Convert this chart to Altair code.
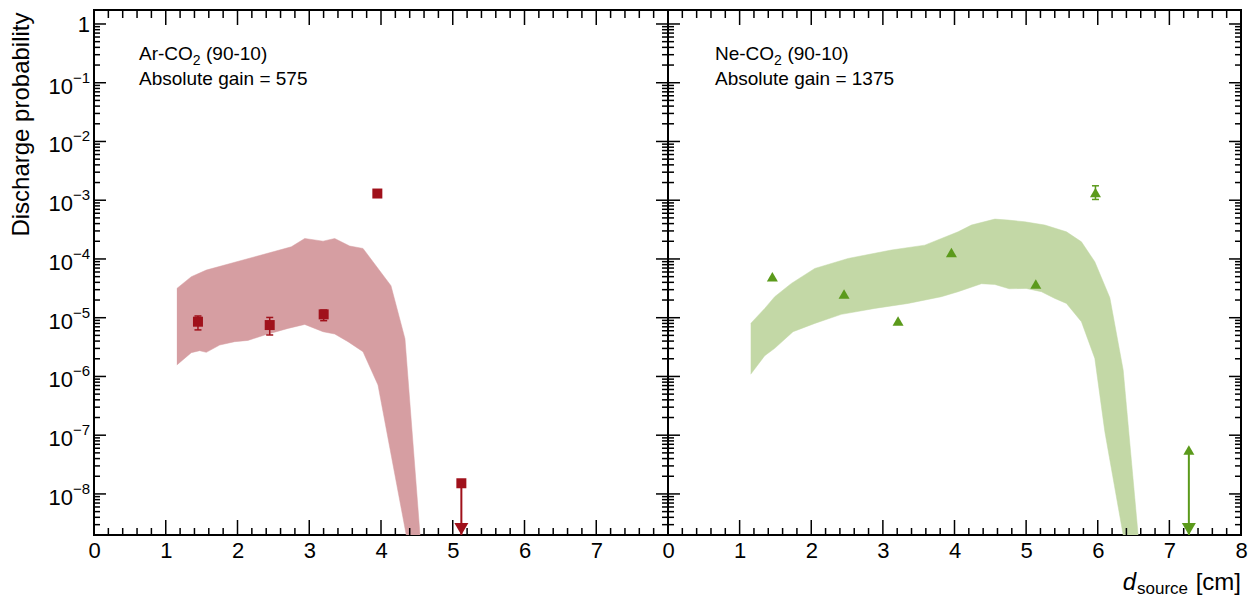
import altair as alt
import pandas as pd

FONT = "Liberation Sans"
W1, W2, H = 574, 573, 525
Y_MIN, Y_MAX = 2.0e-9, 1.73

AR_COLOR = "#a0111b"
AR_BAND = "#d69ea2"
NE_COLOR = "#5b9a1b"
NE_BAND = "#c3d8a6"

# ---------------- Ar-CO2 (90-10), gain 575 ----------------
ar_band_up_x = [1.155, 1.356, 1.565, 2.750, 2.937, 3.192, 3.355, 3.564, 3.749, 4.139, 4.334, 4.544]
ar_band_up_y = [3.15e-5, 4.98e-5, 6.47e-5, 1.61e-4, 2.23e-4, 2.01e-4, 2.23e-4, 1.66e-4, 1.51e-4, 3.50e-5, 4.40e-6, 2.0e-9]
ar_band_lo_x = [1.155, 1.356, 1.473, 1.565, 1.752, 1.961, 2.146, 2.379, 2.704, 2.937, 3.192, 3.355, 3.540, 3.749, 3.958, 4.352]
ar_band_lo_y = [1.57e-6, 2.54e-6, 2.75e-6, 2.57e-6, 3.43e-6, 3.91e-6, 4.11e-6, 5.08e-6, 6.58e-6, 7.69e-6, 5.78e-6, 5.28e-6, 3.91e-6, 2.64e-6, 7.16e-7, 2.0e-9]

ar_x = [1.449, 2.449, 3.201, 3.949]
ar_y = [8.55e-6, 7.5e-6, 1.14e-5, 1.30e-3]
ar_err_x = [1.449, 2.449, 3.201]
ar_err_lo = [6.2e-6, 5.08e-6, 8.9e-6]
ar_err_hi = [1.07e-5, 1.01e-5, 1.35e-5]
ar_lim_x = [5.120]
ar_lim_y = [1.52e-8]

# ---------------- Ne-CO2 (90-10), gain 1375 ----------------
ne_band_up_x = [1.155, 1.351, 1.490, 1.722, 2.049, 2.514, 3.119, 3.585, 4.050, 4.236, 4.563, 4.749, 4.982, 5.261, 5.563, 5.772, 5.959, 6.169, 6.355, 6.564]
ne_band_up_y = [8.0e-6, 1.44e-5, 2.28e-5, 3.83e-5, 6.89e-5, 1.02e-4, 1.42e-4, 1.72e-4, 2.90e-4, 3.78e-4, 4.77e-4, 4.59e-4, 4.29e-4, 3.78e-4, 2.90e-4, 1.96e-4, 8.95e-5, 2.19e-5, 1.29e-6, 2.0e-9]
ne_band_lo_x = [1.155, 1.351, 1.490, 1.746, 2.049, 2.420, 2.887, 3.352, 3.817, 4.050, 4.376, 4.563, 4.763, 5.000, 5.214, 5.401, 5.563, 5.772, 5.959, 6.099, 6.355]
ne_band_lo_y = [1.09e-6, 2.26e-6, 3.01e-6, 5.78e-6, 8.0e-6, 1.14e-5, 1.44e-5, 1.75e-5, 2.28e-5, 2.77e-5, 3.79e-5, 3.68e-5, 3.11e-5, 3.15e-5, 2.77e-5, 2.13e-5, 1.75e-5, 8.55e-6, 2.03e-6, 1.15e-7, 2.0e-9]

ne_x = [1.457, 2.458, 3.212, 3.957, 5.135, 5.968]
ne_y = [4.98e-5, 2.53e-5, 8.8e-6, 1.29e-4, 3.74e-5, 1.35e-3]
ne_err_x = [5.968]
ne_err_lo = [1.03e-3]
ne_err_hi = [1.76e-3]
ne_lim_x = [7.272]
ne_lim_y = [5.6e-8]

# ---------------- axis ticks / labels ----------------
x_major = [0, 1, 2, 3, 4, 5, 6, 7, 8]
x_minor = [round(0.2 * i, 1) for i in range(1, 40) if i % 5 != 0]
x_labels_left = [0, 1, 2, 3, 4, 5, 6, 7]
x_labels_right = [0, 1, 2, 3, 4, 5, 6, 7, 8]
y_major = [1e-8, 1e-7, 1e-6, 1e-5, 1e-4, 1e-3, 1e-2, 1e-1, 1.0]
y_minor = [k * 10.0 ** n for n in range(-9, 1) for k in range(2, 10)
           if Y_MIN < k * 10.0 ** n < Y_MAX]
y_label_vals = [1e-8, 1e-7, 1e-6, 1e-5, 1e-4, 1e-3, 1e-2, 1e-1]
y_label_exps = ["\u22128", "\u22127", "\u22126", "\u22125", "\u22124", "\u22123", "\u22122", "\u22121"]

xscale = alt.Scale(domain=[0, 8], nice=False, zero=False)
yscale = alt.Scale(type="log", domain=[Y_MIN, Y_MAX], nice=False)


def build_panel(width, band_up_x, band_up_y, band_lo_x, band_lo_y, band_color,
                px, py, shape, psize, color, ex, elo, ehi, lx, ly,
                x_labels, gas_main, text_x, gain_text, left):
    xaxis = alt.Axis(values=x_labels, title=None, ticks=False, tickSize=0, domain=False,
                     grid=False, labelFont=FONT, labelFontSize=22, labelPadding=22,
                     labelBaseline="alphabetic", labelFlush=False, labelOverlap=False,
                     labelColor="black", format="d")
    if left:
        yaxis = alt.Axis(title="Discharge probability", labels=False, ticks=False,
                         domain=False, grid=False, titleFont=FONT, titleFontSize=24,
                         titleFontWeight="normal", titleColor="black", titleAngle=270,
                         titleAlign="right", titleBaseline="alphabetic",
                         titleX=-66, titleY=2)
    else:
        yaxis = None

    def X(f):
        return alt.X(f, type="quantitative", scale=xscale, axis=xaxis)

    def Y(f):
        return alt.Y(f, type="quantitative", scale=yscale, axis=yaxis)

    n_up = len(band_up_x)
    band_df = pd.DataFrame({
        "x": band_up_x + band_lo_x[::-1],
        "y": band_up_y + band_lo_y[::-1],
        "i": list(range(n_up + len(band_lo_x))),
    })
    layers = []
    layers.append(alt.Chart(band_df).mark_line(fill=band_color, stroke=band_color,
                                               strokeWidth=0.5, clip=True)
                  .encode(x=X("x"), y=Y("y"), order=alt.Order("i:Q")))

    # tick marks (inside, ROOT style)
    xmaj = pd.DataFrame({"v": x_major})
    xmin = pd.DataFrame({"v": x_minor})
    ymaj = pd.DataFrame({"v": y_major})
    ymin = pd.DataFrame({"v": y_minor})
    tk = dict(color="black", strokeWidth=1.5)
    layers.append(alt.Chart(xmaj).mark_rule(**tk).encode(x=X("v"), y=alt.value(H), y2=alt.value(H - 15)))
    layers.append(alt.Chart(xmaj).mark_rule(**tk).encode(x=X("v"), y=alt.value(0), y2=alt.value(15)))
    layers.append(alt.Chart(xmin).mark_rule(**tk).encode(x=X("v"), y=alt.value(H), y2=alt.value(H - 7)))
    layers.append(alt.Chart(xmin).mark_rule(**tk).encode(x=X("v"), y=alt.value(0), y2=alt.value(8)))
    layers.append(alt.Chart(ymaj).mark_rule(**tk).encode(y=Y("v"), x=alt.value(0), x2=alt.value(12)))
    layers.append(alt.Chart(ymaj).mark_rule(**tk).encode(y=Y("v"), x=alt.value(width), x2=alt.value(width - 12)))
    layers.append(alt.Chart(ymin).mark_rule(**tk).encode(y=Y("v"), x=alt.value(0), x2=alt.value(6)))
    layers.append(alt.Chart(ymin).mark_rule(**tk).encode(y=Y("v"), x=alt.value(width), x2=alt.value(width - 6)))

    # error bars
    err_df = pd.DataFrame({"x": ex, "lo": elo, "hi": ehi})
    layers.append(alt.Chart(err_df).mark_rule(color=color, strokeWidth=1.5)
                  .encode(x=X("x"), y=Y("lo"), y2=alt.Y2("hi")))
    layers.append(alt.Chart(err_df).mark_tick(orient="horizontal", size=7, thickness=1.5, color=color, opacity=1)
                  .encode(x=X("x"), y=Y("lo")))
    layers.append(alt.Chart(err_df).mark_tick(orient="horizontal", size=7, thickness=1.5, color=color, opacity=1)
                  .encode(x=X("x"), y=Y("hi")))

    # points
    pts_df = pd.DataFrame({"x": px, "y": py})
    layers.append(alt.Chart(pts_df).mark_point(shape=shape, filled=True, size=psize,
                                               color=color, opacity=1, strokeWidth=0)
                  .encode(x=X("x"), y=Y("y")))

    # upper limit arrow
    lim_df = pd.DataFrame({"x": lx, "y": ly})
    layers.append(alt.Chart(lim_df).mark_rule(color=color, strokeWidth=2)
                  .encode(x=X("x"), y=Y("y"), y2=alt.value(H)))
    layers.append(alt.Chart(lim_df).mark_point(shape=shape, filled=True, size=psize,
                                               color=color, opacity=1, strokeWidth=0)
                  .encode(x=X("x"), y=Y("y")))
    layers.append(alt.Chart(lim_df).mark_point(shape="triangle-down", filled=True, size=196,
                                               color=color, opacity=1, strokeWidth=0)
                  .encode(x=X("x"), y=alt.value(H - 6)))

    # annotation text
    one = pd.DataFrame({"a": [0]})
    txt = dict(font=FONT, color="black", align="left", baseline="alphabetic")
    layers.append(alt.Chart(one).mark_text(text=gas_main, fontSize=19, **txt)
                  .encode(x=alt.value(text_x[0]), y=alt.value(50)))
    layers.append(alt.Chart(one).mark_text(text="2", fontSize=14, **txt)
                  .encode(x=alt.value(text_x[1]), y=alt.value(55)))
    layers.append(alt.Chart(one).mark_text(text="(90-10)", fontSize=19, **txt)
                  .encode(x=alt.value(text_x[2]), y=alt.value(50)))
    layers.append(alt.Chart(one).mark_text(text=gain_text, fontSize=19, **txt)
                  .encode(x=alt.value(text_x[0]), y=alt.value(75)))

    if left:
        lab_df = pd.DataFrame({"v": y_label_vals, "e": y_label_exps})
        rt = dict(font=FONT, color="black", align="right", baseline="alphabetic")
        layers.append(alt.Chart(lab_df).mark_text(text="10", fontSize=22, dy=11, **rt)
                      .encode(y=Y("v"), x=alt.value(-21)))
        layers.append(alt.Chart(lab_df).mark_text(fontSize=15, dy=0, **rt)
                      .encode(y=Y("v"), x=alt.value(-4), text="e:N"))
        layers.append(alt.Chart(pd.DataFrame({"v": [1.0]})).mark_text(text="1", fontSize=22, dy=8, **rt)
                      .encode(y=Y("v"), x=alt.value(-4)))
    else:
        rt = dict(font=FONT, color="black", align="right", baseline="alphabetic")
        layers.append(alt.Chart(one).mark_text(text="[cm]", fontSize=24, **rt)
                      .encode(x=alt.value(width), y=alt.value(H + 55)))
        layers.append(alt.Chart(one).mark_text(text="source", fontSize=17, **rt)
                      .encode(x=alt.value(width - 53), y=alt.value(H + 59)))
        layers.append(alt.Chart(one).mark_text(text="d", fontSize=24, fontStyle="italic", **rt)
                      .encode(x=alt.value(width - 105), y=alt.value(H + 55)))

    return alt.layer(*layers).properties(width=width, height=H)


left = build_panel(W1, ar_band_up_x, ar_band_up_y, ar_band_lo_x, ar_band_lo_y, AR_BAND,
                   ar_x, ar_y, "square", 100, AR_COLOR, ar_err_x, ar_err_lo, ar_err_hi,
                   ar_lim_x, ar_lim_y, x_labels_left, "Ar-CO", [45, 98.8, 112], "Absolute gain = 575", True)
right = build_panel(W2, ne_band_up_x, ne_band_up_y, ne_band_lo_x, ne_band_lo_y, NE_BAND,
                    ne_x, ne_y, "triangle-up", 121, NE_COLOR, ne_err_x, ne_err_lo, ne_err_hi,
                    ne_lim_x, ne_lim_y, x_labels_right, "Ne-CO", [47, 106.1, 119.4], "Absolute gain = 1375", False)

chart = (alt.hconcat(left, right, spacing=0, bounds="flush")
         .properties(padding={"left": 0, "right": 0, "top": 0, "bottom": 0}, background="white")
         .configure_view(stroke="black", strokeWidth=2))

chart.save("out.html", embed_options={"renderer": "svg", "actions": False})
